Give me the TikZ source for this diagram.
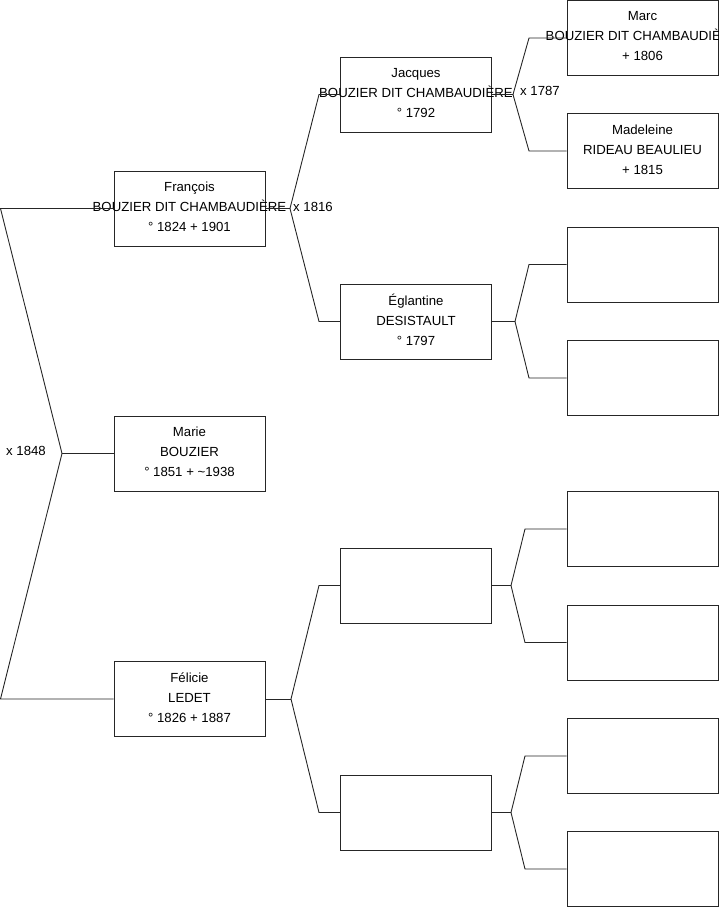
\documentclass[tikz,border=0pt]{standalone}
\usepackage{fontspec}
\setmainfont{Liberation Sans}
\begin{document}
\begin{tikzpicture}[x=1pt,y=-1pt,
  pbox/.style={draw=black!85,line width=0.9pt,minimum width=151pt,minimum height=75pt,inner sep=0pt},
  ptext/.style={align=center,inner sep=0pt,yshift=1.5pt,font=\fontsize{13.2}{20}\selectfont},
  link/.style={draw=black!85,line width=0.9pt},
  mlabel/.style={inner sep=0pt,font=\fontsize{13.2}{15}\selectfont}]
\clip (0,0) rectangle (719,908);
\useasboundingbox (0,0) rectangle (719,908);
% generation 1
\node[pbox] (f) at (189.5,208.5) {};
\node[ptext] (ft) at (f.center) {François\\BOUZIER DIT CHAMBAUDIÈRE\\° 1824 + 1901};
\node[pbox] (m) at (189.5,453.5) {};
\node[ptext] (mt) at (m.center) {Marie\\BOUZIER\\° 1851 + \textasciitilde1938};
\node[pbox] (l) at (189.5,699) {};
\node[ptext] (lt) at (l.center) {Félicie\\LEDET\\° 1826 + 1887};
% generation 2
\node[pbox] (j) at (416,94.5) {};
\node[ptext] (jt) at (j.center) {Jacques\\BOUZIER DIT CHAMBAUDIÈRE\\° 1792};
\node[pbox] (e) at (416,321.5) {};
\node[ptext] (et) at (e.center) {Églantine\\DESISTAULT\\° 1797};
\node[pbox] (u1) at (416,585.5) {};
\node[pbox] (u2) at (416,812.5) {};
% generation 3
\node[pbox] (g1) at (642.5,38) {};
\node[ptext] (g1t) at (g1.center) {Marc\\BOUZIER DIT CHAMBAUDIÈRE\\+ 1806};
\node[pbox] (g2) at (642.5,151) {};
\node[ptext] (g2t) at (g2.center) {Madeleine\\RIDEAU BEAULIEU\\+ 1815};
\node[pbox] (g3) at (642.5,264.5) {};
\node[pbox] (g4) at (642.5,378) {};
\node[pbox] (g5) at (642.5,529) {};
\node[pbox] (g6) at (642.5,642.5) {};
\node[pbox] (g7) at (642.5,756) {};
\node[pbox] (g8) at (642.5,869) {};
% fork points
\coordinate (rv) at (62,453.5);
\coordinate (r1) at (0.5,208.5);
\coordinate (r2) at (0.5,699);
\coordinate (fv) at (290,208.5);
\coordinate (fa) at (319,94.5);
\coordinate (fb) at (319,321.5);
\coordinate (lv) at (291,699);
\coordinate (la) at (319,585.5);
\coordinate (lb) at (319,812.5);
\coordinate (jv) at (513,94.5);
\coordinate (ja) at (529,38);
\coordinate (jb) at (529,151);
\coordinate (ev) at (515,321.5);
\coordinate (ea) at (529,264.5);
\coordinate (eb) at (529,378);
\coordinate (av) at (511,585.5);
\coordinate (aa) at (525,529);
\coordinate (ab) at (525,642.5);
\coordinate (bv) at (511,812.5);
\coordinate (ba) at (525,756);
\coordinate (bb) at (525,869);
% connectors
\draw[link] (f.west) -- (r1) -- (rv) -- (r2) -- (l.west);
\draw[link] (rv) -- (m.west);
\draw[link] (f.east) -- (fv);
\draw[link] (j.west) -- (fa) -- (fv) -- (fb) -- (e.west);
\draw[link] (l.east) -- (lv);
\draw[link] (u1.west) -- (la) -- (lv) -- (lb) -- (u2.west);
\draw[link] (j.east) -- (jv);
\draw[link] (g1.west) -- (ja) -- (jv) -- (jb) -- (g2.west);
\draw[link] (e.east) -- (ev);
\draw[link] (g3.west) -- (ea) -- (ev) -- (eb) -- (g4.west);
\draw[link] (u1.east) -- (av);
\draw[link] (g5.west) -- (aa) -- (av) -- (ab) -- (g6.west);
\draw[link] (u2.east) -- (bv);
\draw[link] (g7.west) -- (ba) -- (bv) -- (bb) -- (g8.west);
% marriage labels
\node[mlabel] (x1848) at (26,451) {x 1848};
\node[mlabel,anchor=west] (x1816) at (293,207) {x 1816};
\node[mlabel,anchor=west] (x1787) at (520,91) {x 1787};
\end{tikzpicture}
\end{document}
